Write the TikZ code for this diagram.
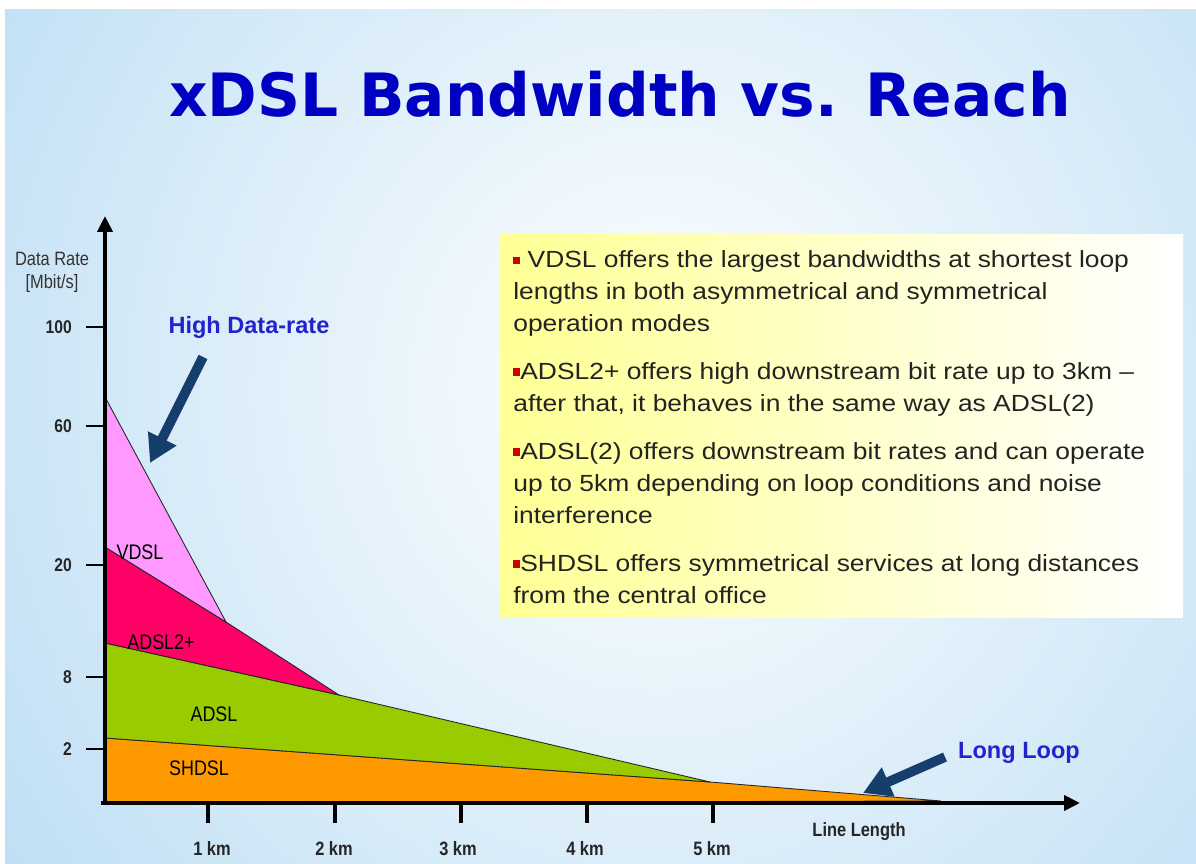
\documentclass[tikz,border=0pt]{standalone}
\usepackage{fontspec}
\setmainfont{Liberation Sans}
\newfontfamily\titlefont{DejaVu Sans}
\newfontfamily\narrowfont[FakeStretch=0.85]{Liberation Sans}
\newfontfamily\notefont[FakeStretch=1.13]{Liberation Sans}
\usetikzlibrary{arrows.meta}

\definecolor{skyback}{RGB}{155,205,238}
\definecolor{titleblue}{RGB}{0,0,195}
\definecolor{calloutblue}{RGB}{35,35,205}
\definecolor{arrownavy}{RGB}{22,62,108}
\definecolor{vdslpink}{RGB}{255,153,255}
\definecolor{adslplus}{RGB}{255,0,102}
\definecolor{adslgreen}{RGB}{153,204,0}
\definecolor{shdslorange}{RGB}{255,153,0}
\definecolor{bulletred}{RGB}{205,0,0}
\definecolor{notegray}{RGB}{35,35,35}

% small red square in front of each note
\newcommand{\sqbullet}{\textcolor{bulletred}{\rule[0.12em]{0.3em}{0.34em}}}

\begin{document}
\begin{tikzpicture}[x=0.02cm, y=-0.02cm,
    band/.style={draw=black!85, line width=0.5pt},
    bandname/.style={font=\narrowfont\fontsize{12}{14}\selectfont},
    yval/.style={anchor=east, font=\narrowfont\bfseries\fontsize{10.5}{12}\selectfont, text=black!85},
    kmval/.style={anchor=base, font=\narrowfont\bfseries\fontsize{11}{13}\selectfont, text=black!85},
    callout/.style={font=\bfseries\fontsize{13.4}{16}\selectfont, text=calloutblue},
    fatarrow/.style={draw=arrownavy, line width=5.5pt, -{Triangle[length=0.55cm,width=0.6cm]}},
    axisline/.style={line width=2.2pt, -{Triangle[length=0.32cm,width=0.3cm]}}]
  \useasboundingbox (0,0) rectangle (1196,864);

  % 1. Background (pale sky with a bright glow in the middle)
  \fill[white] (0,0) rectangle (1196,864);
  \begin{scope}
    \clip (5,10) rectangle (1196,864);
    \fill[skyback] (5,10) rectangle (1196,864);
    \shade[inner color=white, outer color=skyback] (660,390) ellipse (1250 and 1300);
  \end{scope}

  % 2. Title
  \node[font=\titlefont\bfseries\fontsize{34}{40}\selectfont, text=titleblue, anchor=base] (title) at (620,117) {xDSL Bandwidth vs. Reach};

  % 3. Note box on the right
  \shade[left color=yellow!42, right color=white] (500,235) rectangle (1183,617);
  \node[anchor=north west, inner sep=0pt, align=left, text=notegray,
        font=\notefont\fontsize{13.3}{18.2}\selectfont] (notes) at (513,250) {%
    \sqbullet\ VDSL offers the largest bandwidths at shortest loop\\
    lengths in both asymmetrical and symmetrical\\
    operation modes\\[0.32cm]
    \sqbullet ADSL2+ offers high downstream bit rate up to 3km \textendash\\
    after that, it behaves in the same way as ADSL(2)\\[0.32cm]
    \sqbullet ADSL(2) offers downstream bit rates and can operate\\
    up to 5km depending on loop conditions and noise\\
    interference\\[0.32cm]
    \sqbullet SHDSL offers symmetrical services at long distances\\
    from the central office};

  % 4. Corners of the rate bands
  \coordinate (O) at (105,803);
  \coordinate (vdsltop) at (105,397);
  \coordinate (plustop) at (105,547);
  \coordinate (adsltop) at (105,643);
  \coordinate (shdsltop) at (105,738);
  \coordinate (vdslend) at (226,622);
  \coordinate (plusend) at (339,695);
  \coordinate (adslend) at (710,782);
  \coordinate (shdslend) at (941,801);

  % SHDSL band
  \filldraw[band, fill=shdslorange] (shdsltop) -- (adslend) -- (shdslend) -- (O) -- cycle;
  % ADSL band
  \filldraw[band, fill=adslgreen] (adsltop) -- (plusend) -- (adslend) -- (shdsltop) -- cycle;
  % ADSL2+ band
  \filldraw[band, fill=adslplus] (plustop) -- (vdslend) -- (plusend) -- (adsltop) -- cycle;
  % VDSL band
  \filldraw[band, fill=vdslpink] (vdsltop) -- (vdslend) -- (plustop) -- cycle;

  % Band names
  \node[bandname] (vdsl) at (140,552) {VDSL};
  \node[bandname] (adslp) at (161,642) {ADSL2+};
  \node[bandname] (adsl) at (214,714) {ADSL};
  \node[bandname] (shdsl) at (199,768) {SHDSL};

  % 5. Axes
  \coordinate (ytop) at (105,216);
  \coordinate (xend) at (1080,803);
  \draw[axisline] (O) -- (ytop);
  \draw[axisline] (101,803) -- (xend);

  % Rate axis ticks and values
  \draw[line width=1.2pt] (86,327) -- (105,327);
  \draw[line width=1.2pt] (86,426) -- (105,426);
  \draw[line width=1.2pt] (86,565) -- (105,565);
  \draw[line width=1.2pt] (86,677) -- (105,677);
  \draw[line width=1.2pt] (86,749) -- (105,749);
  \node[yval] (r100) at (78,327) {100};
  \node[yval] (r60) at (78,426) {60};
  \node[yval] (r20) at (78,565) {20};
  \node[yval] (r8) at (78,677) {8};
  \node[yval] (r2) at (78,749) {2};
  \node[font=\narrowfont\fontsize{11}{13}\selectfont, text=black!80, align=center] (ratename) at (52,272) {Data Rate\\{[Mbit/s]}};

  % Length axis ticks and values
  \draw[line width=2.4pt] (208,803) -- (208,823);
  \draw[line width=2.4pt] (335,803) -- (335,823);
  \draw[line width=2.4pt] (461,803) -- (461,823);
  \draw[line width=2.4pt] (587,803) -- (587,823);
  \draw[line width=2.4pt] (713,803) -- (713,823);
  \node[kmval] (km1) at (212,855) {1 km};
  \node[kmval] (km2) at (334,855) {2 km};
  \node[kmval] (km3) at (458,855) {3 km};
  \node[kmval] (km4) at (585,855) {4 km};
  \node[kmval] (km5) at (712,855) {5 km};
  \node[kmval] (linelen) at (859,836) {Line Length};

  % 6. Callouts
  \node[callout] (highrate) at (249,327) {High Data-rate};
  \coordinate (hrfrom) at (203,357);
  \coordinate (hrto) at (150,463);
  \draw[fatarrow] (hrfrom) -- (hrto);

  \node[callout] (longloop) at (1019,753) {Long Loop};
  \coordinate (llfrom) at (945,757);
  \coordinate (llto) at (863,793);
  \draw[fatarrow] (llfrom) -- (llto);
\end{tikzpicture}
\end{document}
